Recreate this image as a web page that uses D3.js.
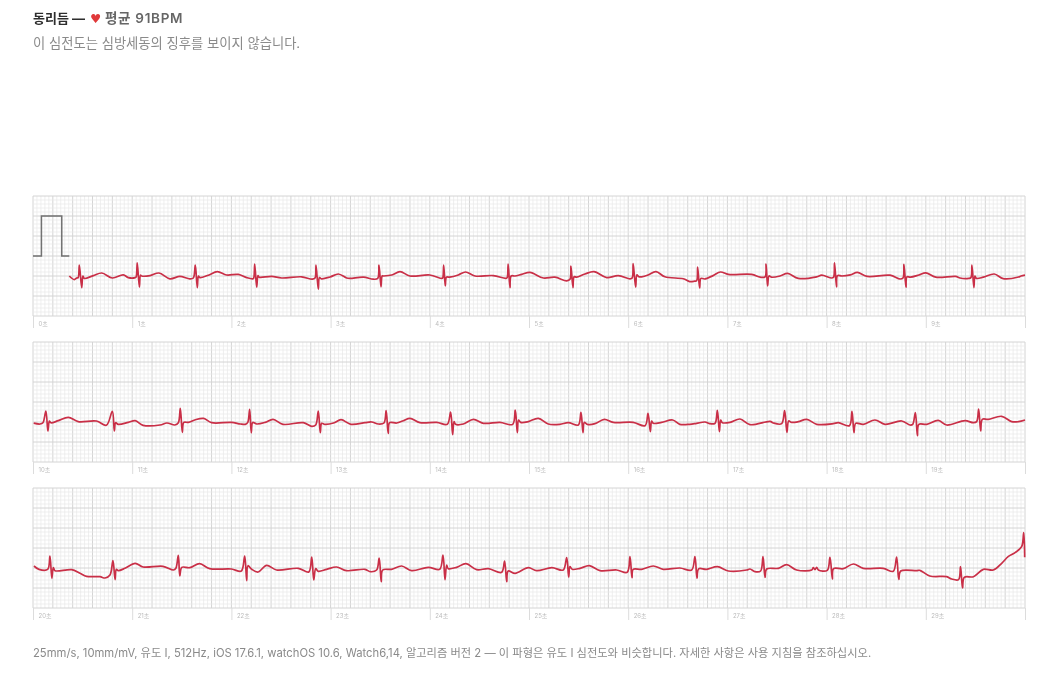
<!DOCTYPE html>
<html>
<head>
<meta charset="utf-8">
<script src="https://cdn.jsdelivr.net/npm/d3@7"></script>
<style>
body { margin:0; background:#fff; }
svg { display:block; filter:blur(0.45px); }
text { font-family:Inter,"Noto Sans CJK KR",sans-serif; }
</style>
</head>
<body>
<svg></svg>
<script>
var screen2 = {width:1040,height:675}
var margins = {left:33,right:15}
var stripHeight = 120

var titleText = "동리듬 —"
var heartText = "♥"
var rateText = "평균 91BPM"
var subtitleText = "이 심전도는 심방세동의 징후를 보이지 않습니다."
var footerText = "25mm/s, 10mm/mV, 유도 I, 512Hz, iOS 17.6.1, watchOS 10.6, Watch6,14, 알고리즘 버전 2 — 이 파형은 유도 I 심전도와 비슷합니다. 자세한 사항은 사용 지침을 참조하십시오."

// seconds where each strip starts and ends
var stripStarts = [0,10,20]
var stripTops = [196,342,488]

// 1mV calibration pulse
var calPulse = [[0,0],[.085,0],[.085,1],[.29,1],[.29,0],[.366,0]]

// [seconds, mV], one beat per line
var strip1 = [
[.366,-.50],[.416,-.59],[.44,-.55],[.455,-.54],[.467,-.225],[.491,-.79],[.503,-.50],[.517,-.56],[.608,-.49],[.693,-.425],[.80,-.55],[.91,-.47],[.96,-.54],[1.03,-.54],
[1.04,-.52],[1.051,-.17],[1.072,-.775],[1.084,-.48],[1.096,-.50],[1.18,-.49],[1.27,-.425],[1.38,-.57],[1.48,-.51],[1.58,-.57],[1.616,-.55],
[1.636,-.23],[1.656,-.79],[1.668,-.50],[1.683,-.54],[1.767,-.48],[1.858,-.39],[1.952,-.475],[2.07,-.46],[2.154,-.54],[2.215,-.57],[2.225,-.55],
[2.235,-.20],[2.255,-.78],[2.268,-.49],[2.28,-.53],[2.406,-.51],[2.507,-.55],[2.708,-.52],[2.815,-.58],[2.843,-.55],
[2.853,-.23],[2.876,-.83],[2.888,-.54],[2.91,-.57],[2.994,-.525],[3.078,-.45],[3.162,-.55],[3.195,-.56],[3.33,-.53],[3.43,-.58],[3.475,-.56],
[3.488,-.225],[3.508,-.77],[3.52,-.50],[3.533,-.50],[3.616,-.475],[3.70,-.39],[3.80,-.50],[4.00,-.475],[4.12,-.56],[4.13,-.55],
[4.14,-.23],[4.156,-.75],[4.168,-.53],[4.20,-.53],[4.287,-.475],[4.36,-.40],[4.456,-.50],[4.64,-.49],[4.768,-.56],[4.78,-.54],
[4.79,-.20],[4.808,-.79],[4.82,-.50],[4.858,-.50],[4.926,-.46],[5.01,-.41],[5.145,-.55],[5.26,-.53],[5.38,-.62],[5.413,-.58],
[5.423,-.25],[5.443,-.79],[5.455,-.52],[5.48,-.53],[5.564,-.45],[5.655,-.39],[5.783,-.54],[5.90,-.49],[6.018,-.57],[6.04,-.55],
[6.05,-.19],[6.075,-.78],[6.088,-.47],[6.108,-.52],[6.136,-.52],[6.20,-.475],[6.28,-.39],[6.37,-.52],[6.555,-.57],[6.62,-.64],[6.67,-.63],[6.69,-.62],
[6.70,-.275],[6.72,-.80],[6.733,-.56],[6.77,-.575],[6.855,-.49],[6.93,-.40],[7.01,-.46],[7.245,-.46],[7.33,-.53],[7.38,-.52],
[7.39,-.20],[7.405,-.75],[7.42,-.50],[7.445,-.53],[7.53,-.50],[7.607,-.435],[7.715,-.56],[7.90,-.52],[7.95,-.48],[8.05,-.55],[8.07,-.53],
[8.08,-.17],[8.10,-.77],[8.11,-.49],[8.155,-.50],[8.24,-.47],[8.31,-.41],[8.41,-.51],[8.64,-.48],[8.74,-.575],[8.77,-.55],
[8.78,-.21],[8.80,-.78],[8.81,-.52],[8.845,-.53],[8.93,-.475],[9.00,-.42],[9.10,-.53],[9.30,-.51],[9.345,-.55],[9.43,-.56],[9.455,-.54],
[9.465,-.23],[9.485,-.79],[9.495,-.50],[9.51,-.56],[9.58,-.53],[9.69,-.45],[9.78,-.565],[9.935,-.525],[9.96,-.50],[10,-.48]
]

var strip2 = [
[10.007,-.53],[10.07,-.55],[10.10,-.52],
[10.13,-.225],[10.15,-.725],[10.165,-.475],[10.18,-.52],[10.255,-.467],[10.356,-.383],[10.456,-.49],[10.64,-.475],[10.74,-.583],
[10.80,-.233],[10.82,-.725],[10.833,-.517],[10.86,-.56],[10.96,-.51],[11.03,-.467],[11.11,-.583],[11.28,-.575],[11.35,-.525],[11.43,-.575],[11.465,-.52],
[11.485,-.158],[11.505,-.758],[11.52,-.51],[11.566,-.51],[11.63,-.45],[11.72,-.41],[11.80,-.517],[12.00,-.51],[12.09,-.55],[12.14,-.558],[12.165,-.51],
[12.184,-.183],[12.20,-.767],[12.215,-.51],[12.255,-.55],[12.34,-.51],[12.42,-.433],[12.52,-.558],[12.725,-.517],[12.81,-.608],[12.85,-.575],
[12.876,-.225],[12.896,-.767],[12.91,-.533],[12.943,-.558],[13.03,-.525],[13.105,-.442],[13.205,-.558],[13.347,-.517],[13.414,-.50],[13.48,-.55],[13.538,-.525],
[13.56,-.217],[13.58,-.783],[13.595,-.517],[13.666,-.525],[13.733,-.467],[13.80,-.408],[13.90,-.517],[14.07,-.51],[14.176,-.558],
[14.21,-.25],[14.23,-.817],[14.244,-.49],[14.26,-.558],[14.338,-.55],[14.44,-.433],[14.54,-.533],[14.707,-.51],[14.835,-.558],
[14.862,-.20],[14.882,-.767],[14.895,-.45],[14.916,-.51],[14.993,-.49],[15.094,-.408],[15.194,-.55],[15.31,-.558],[15.396,-.517],[15.497,-.575],
[15.524,-.258],[15.544,-.767],[15.557,-.51],[15.588,-.558],[15.665,-.542],[15.76,-.433],[15.85,-.51],[16.05,-.51],[16.17,-.592],
[16.20,-.283],[16.223,-.742],[16.236,-.475],[16.253,-.533],[16.337,-.51],[16.448,-.45],[16.52,-.558],[16.62,-.558],[16.69,-.533],[16.774,-.50],[16.818,-.54],[16.875,-.533],
[16.899,-.208],[16.919,-.742],[16.932,-.45],[16.949,-.517],[17.026,-.51],[17.127,-.425],[17.228,-.567],[17.43,-.483],[17.463,-.525],[17.547,-.542],
[17.577,-.217],[17.60,-.758],[17.618,-.475],[17.648,-.51],[17.715,-.492],[17.80,-.433],[17.90,-.558],[18.068,-.542],[18.118,-.517],[18.23,-.592],
[18.256,-.233],[18.276,-.767],[18.293,-.533],[18.37,-.558],[18.488,-.45],[18.589,-.558],[18.757,-.475],[18.84,-.575],[18.868,-.558],
[18.895,-.267],[18.915,-.842],[18.93,-.558],[19.009,-.558],[19.126,-.458],[19.21,-.575],[19.395,-.467],[19.479,-.517],[19.513,-.49],
[19.533,-.175],[19.553,-.725],[19.57,-.433],[19.63,-.433],[19.765,-.358],[19.866,-.492],[19.933,-.492],[20,-.45]
]

var strip3 = [
[20.01,-.45],[20.06,-.533],[20.148,-.533],
[20.171,-.20],[20.19,-.758],[20.205,-.49],[20.222,-.567],[20.39,-.542],[20.474,-.633],[20.54,-.708],[20.675,-.717],[20.726,-.75],[20.776,-.675],
[20.806,-.317],[20.827,-.792],[20.84,-.533],[20.86,-.567],[20.927,-.508],[21.03,-.383],[21.11,-.475],[21.31,-.458],[21.415,-.55],[21.44,-.508],
[21.465,-.183],[21.48,-.70],[21.50,-.483],[21.58,-.492],[21.68,-.392],[21.78,-.517],[22.00,-.525],[22.10,-.575],
[22.134,-.20],[22.154,-.817],[22.167,-.442],[22.205,-.533],[22.27,-.60],[22.355,-.433],[22.455,-.55],[22.675,-.508],[22.78,-.60],
[22.81,-.225],[22.83,-.80],[22.85,-.517],[22.876,-.583],[22.96,-.533],[23.06,-.475],[23.16,-.567],[23.347,-.533],[23.40,-.592],[23.464,-.55],
[23.49,-.25],[23.51,-.842],[23.525,-.55],[23.615,-.533],[23.716,-.45],[23.817,-.567],[23.985,-.483],[24.10,-.533],
[24.133,-.175],[24.153,-.792],[24.17,-.425],[24.186,-.517],[24.27,-.483],[24.365,-.392],[24.472,-.542],[24.59,-.517],[24.724,-.608],
[24.754,-.325],[24.775,-.842],[24.79,-.575],[24.86,-.633],[24.993,-.492],[25.077,-.567],[25.23,-.492],[25.345,-.55],
[25.38,-.242],[25.40,-.725],[25.413,-.467],[25.436,-.533],[25.514,-.508],[25.608,-.442],[25.716,-.567],[25.884,-.55],[25.99,-.608],
[26.018,-.217],[26.038,-.742],[26.05,-.533],[26.136,-.533],[26.253,-.45],[26.354,-.533],[26.52,-.50],[26.64,-.55],
[26.673,-.217],[26.693,-.755],[26.71,-.52],[26.79,-.533],[26.90,-.467],[27.01,-.575],[27.194,-.55],[27.228,-.525],[27.278,-.592],[27.335,-.575],
[27.359,-.217],[27.379,-.733],[27.396,-.525],[27.513,-.508],[27.597,-.417],[27.698,-.55],[27.85,-.55],[27.866,-.492],[27.883,-.542],[27.90,-.483],[27.917,-.55],[28.007,-.558],
[28.034,-.233],[28.058,-.775],[28.07,-.517],[28.168,-.517],[28.27,-.40],[28.37,-.508],[28.57,-.508],[28.672,-.583],
[28.706,-.225],[28.727,-.783],[28.747,-.575],[28.908,-.567],[28.94,-.558],[29.04,-.70],[29.21,-.717],[29.26,-.775],[29.33,-.792],
[29.35,-.467],[29.37,-1.00],[29.388,-.733],[29.48,-.717],[29.58,-.533],[29.68,-.55],[29.765,-.383],[29.83,-.217],[29.90,-.117],[29.966,.033],[29.987,.383],[29.997,-.233]
]
var strips = [strip1,strip2,strip3]

var svg = d3.select("svg")
            .attr("width",screen2.width)
            .attr("height",screen2.height)

var width = screen2.width - margins.left - margins.right
var yScale = d3.scaleLinear().domain([-1.5,1.5]).range([stripHeight,0])

var drawStrip = function(start,index)
{
    var xScale = d3.scaleLinear().domain([start,start+10]).range([0,width])
    var g = svg.append("g")
               .attr("transform","translate("+margins.left+","+stripTops[index]+")")

    // small boxes 0.04s / 0.1mV, large boxes 0.2s / 0.5mV
    var xSmall = d3.range(0,251).map(function(i){return start+i*.04})
    var ySmall = d3.range(0,31).map(function(i){return -1.5+i*.1})

    g.selectAll(".vgrid").data(xSmall).enter().append("line")
     .attr("x1",function(d){return xScale(d)}).attr("x2",function(d){return xScale(d)})
     .attr("y1",0).attr("y2",stripHeight)
     .attr("stroke",function(d,i){return i%5==0 ? "#d4d4d4" : "#e8e8e8"})
     .attr("stroke-width",function(d,i){return i%5==0 ? 1 : .7})

    g.selectAll(".hgrid").data(ySmall).enter().append("line")
     .attr("y1",function(d){return yScale(d)}).attr("y2",function(d){return yScale(d)})
     .attr("x1",0).attr("x2",width)
     .attr("stroke",function(d,i){return i%5==0 ? "#d4d4d4" : "#e8e8e8"})
     .attr("stroke-width",function(d,i){return i%5==0 ? 1 : .7})

    var axis = d3.axisBottom(xScale)
                 .tickValues(d3.range(start,start+11))
                 .tickSize(12)
                 .tickFormat(function(d){return d == start+10 ? "" : d+"초"})
    var axisG = g.append("g")
                 .attr("transform","translate(0,"+stripHeight+")")
                 .call(axis)
    axisG.select(".domain").remove()
    axisG.selectAll("line").attr("stroke","#dcdcdc").attr("stroke-width",1)
    axisG.selectAll("text")
         .attr("x",5).attr("y",8).attr("dy","0.32em")
         .attr("text-anchor","start")
         .attr("font-size",6)
         .attr("font-family","Inter,'Noto Sans CJK KR',sans-serif")
         .attr("fill","#bcbcbc")

    var lineGenerator = d3.line()
                          .x(function(p){return xScale(p[0])})
                          .y(function(p){return yScale(p[1])})
                          .curve(d3.curveCatmullRom.alpha(0.5))

    if(index==0)
    {
        g.append("path")
         .attr("d",d3.line().x(function(p){return xScale(p[0])}).y(function(p){return yScale(p[1])})(calPulse))
         .attr("fill","none")
         .attr("stroke","#727272")
         .attr("stroke-width",1.5)
    }

    g.append("path")
     .attr("d",lineGenerator(strips[index]))
     .attr("fill","none")
     .attr("stroke","#c92f47")
     .attr("stroke-width",1.7)
     .attr("stroke-linejoin","round")
}
stripStarts.forEach(drawStrip)

svg.append("text").text(titleText)
   .attr("x",33).attr("y",23).attr("font-size",13).attr("font-weight",700).attr("fill","#2e2e2e")
svg.append("text").text(heartText)
   .attr("x",90).attr("y",23).attr("font-size",12.5).attr("fill","#e0393a")
   .style("font-family","'DejaVu Sans'")
svg.append("text").text(rateText)
   .attr("x",105).attr("y",23).attr("font-size",13.5).attr("font-weight",600).attr("letter-spacing",.7).attr("fill","#666")
svg.append("text").text(subtitleText)
   .attr("x",33).attr("y",48).attr("font-size",13.3).attr("fill","#8a8a8a")
svg.append("text").text(footerText)
   .attr("x",33).attr("y",657).attr("font-size",11.25).attr("fill","#8a8a8a")
</script>
</body>
</html>
